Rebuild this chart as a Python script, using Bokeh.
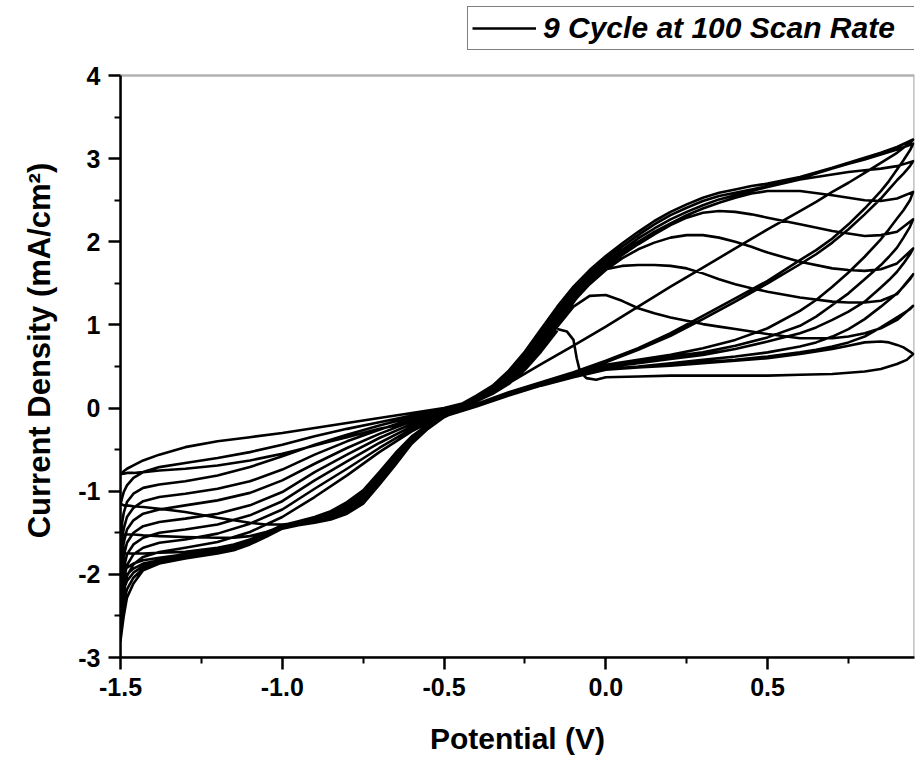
from bokeh.plotting import figure
from bokeh.models import Range1d, FixedTicker, Legend, LegendItem, NumeralTickFormatter, BoxAnnotation
from bokeh.embed import file_html
from bokeh.resources import INLINE

# ---- potential grids (V) ----
POT_FWD = [-1.5, -1.495, -1.49, -1.48, -1.46, -1.43, -1.38, -1.3, -1.2, -1.1, -1.0, -0.9, -0.8, -0.7, -0.6, -0.5,
           -0.45, -0.4, -0.35, -0.3, -0.25, -0.2, -0.15, -0.1, -0.05, 0.0, 0.05, 0.1, 0.15, 0.2, 0.25, 0.3, 0.35,
           0.4, 0.45, 0.5, 0.6, 0.7, 0.75, 0.8, 0.85, 0.9, 0.95]
POT_REV = [0.95, 0.94, 0.92, 0.9, 0.875, 0.85, 0.8, 0.75, 0.7, 0.65, 0.6, 0.5, 0.4, 0.3, 0.2, 0.1, 0.0,
           -0.1, -0.2, -0.3, -0.4, -0.5, -0.55, -0.6, -0.65, -0.7, -0.75, -0.8, -0.85, -0.9, -0.95, -1.0, -1.05,
           -1.1, -1.15, -1.2, -1.3, -1.38, -1.43, -1.46, -1.48, -1.49, -1.495, -1.5]
POT_F1 = [-0.15, -0.12, -0.1, -0.09, -0.08, -0.06, -0.03, 0.0, 0.1, 0.2, 0.3, 0.4, 0.5, 0.6, 0.7, 0.8, 0.85, 0.9,
          0.93, 0.95]

# ---- current density (mA/cm2), anodic sweeps ----
CUR_F1 = [0.95, 0.92, 0.82, 0.60, 0.44, 0.36, 0.34, 0.37, 0.38, 0.39, 0.39, 0.39, 0.39, 0.40, 0.41, 0.44, 0.47,
          0.53, 0.58, 0.65]
CUR_F2 = [-0.80, -0.78, -0.76, -0.73, -0.69, -0.63, -0.56, -0.47, -0.40, -0.35, -0.30, -0.24, -0.18, -0.12, -0.06,
          0.00, 0.05, 0.10, 0.19, 0.30, 0.49, 0.72, 0.98, 1.22, 1.35, 1.36, 1.29, 1.20, 1.14, 1.09, 1.05, 1.01, 0.98,
          0.95, 0.92, 0.89, 0.84, 0.84, 0.86, 0.90, 0.96, 1.06, 1.23]
CUR_F3 = [-1.16, -1.08, -1.01, -0.93, -0.84, -0.77, -0.71, -0.66, -0.60, -0.53, -0.44, -0.34, -0.25, -0.17, -0.09,
          -0.01, 0.04, 0.09, 0.20, 0.32, 0.51, 0.74, 1.00, 1.27, 1.54, 1.67, 1.71, 1.72, 1.72, 1.71, 1.68, 1.62, 1.55,
          1.49, 1.44, 1.40, 1.33, 1.28, 1.27, 1.27, 1.29, 1.37, 1.61]
CUR_F4 = [-1.52, -1.38, -1.26, -1.13, -1.03, -0.96, -0.92, -0.88, -0.81, -0.71, -0.58, -0.44, -0.32, -0.21, -0.11,
          -0.02, 0.04, 0.10, 0.21, 0.34, 0.53, 0.77, 1.03, 1.28, 1.49, 1.66, 1.80, 1.91, 1.99, 2.05, 2.08, 2.08, 2.05,
          2.00, 1.94, 1.87, 1.76, 1.68, 1.66, 1.65, 1.67, 1.74, 1.92]
CUR_F5 = [-1.75, -1.58, -1.45, -1.31, -1.20, -1.12, -1.07, -1.03, -0.97, -0.88, -0.74, -0.56, -0.40, -0.26, -0.13,
          -0.03, 0.04, 0.11, 0.22, 0.36, 0.55, 0.80, 1.06, 1.31, 1.52, 1.69, 1.84, 1.97, 2.09, 2.20, 2.29, 2.35, 2.37,
          2.36, 2.33, 2.29, 2.21, 2.13, 2.10, 2.07, 2.08, 2.12, 2.27]
CUR_F6 = [-2.00, -1.78, -1.62, -1.46, -1.35, -1.27, -1.22, -1.17, -1.11, -1.02, -0.87, -0.67, -0.48, -0.31, -0.16,
          -0.04, 0.04, 0.12, 0.23, 0.38, 0.58, 0.83, 1.09, 1.34, 1.55, 1.72, 1.87, 2.00, 2.12, 2.22, 2.32, 2.40, 2.47,
          2.53, 2.58, 2.61, 2.61, 2.56, 2.53, 2.50, 2.49, 2.52, 2.60]
CUR_F7 = [-2.20, -1.95, -1.78, -1.62, -1.50, -1.42, -1.37, -1.33, -1.27, -1.17, -1.01, -0.77, -0.56, -0.36, -0.19,
          -0.05, 0.04, 0.13, 0.24, 0.40, 0.61, 0.86, 1.13, 1.38, 1.58, 1.75, 1.90, 2.04, 2.16, 2.27, 2.36, 2.44, 2.51,
          2.56, 2.61, 2.66, 2.75, 2.81, 2.84, 2.86, 2.88, 2.91, 2.97]
CUR_F8 = [-2.40, -2.12, -1.93, -1.76, -1.64, -1.56, -1.50, -1.46, -1.40, -1.29, -1.12, -0.87, -0.64, -0.42, -0.22,
          -0.06, 0.04, 0.14, 0.25, 0.42, 0.64, 0.90, 1.17, 1.42, 1.62, 1.79, 1.94, 2.08, 2.21, 2.32, 2.41, 2.49, 2.55,
          2.59, 2.63, 2.67, 2.76, 2.88, 2.94, 2.99, 3.05, 3.11, 3.18]
CUR_F9 = [-2.60, -2.28, -2.07, -1.89, -1.76, -1.68, -1.62, -1.58, -1.51, -1.39, -1.22, -0.97, -0.73, -0.48, -0.25,
          -0.07, 0.04, 0.15, 0.27, 0.45, 0.68, 0.95, 1.22, 1.46, 1.66, 1.83, 1.98, 2.12, 2.25, 2.36, 2.45, 2.53, 2.59,
          2.63, 2.67, 2.70, 2.78, 2.89, 2.95, 3.01, 3.07, 3.14, 3.23]
CUR_F10 = [-2.80, -2.45, -2.22, -2.02, -1.88, -1.79, -1.73, -1.68, -1.61, -1.49, -1.31, -1.07, -0.81, -0.53, -0.28,
           -0.08, 0.01, 0.08, 0.17, 0.29, 0.46, 0.68, 0.93]

# ---- current density (mA/cm2), cathodic sweeps ----
CUR_R1 = [0.65, 0.68, 0.73, 0.76, 0.79, 0.80, 0.79, 0.75, 0.71, 0.68, 0.65, 0.60, 0.57, 0.54, 0.51, 0.49, 0.46,
          0.37, 0.27, 0.15, 0.02, -0.08, -0.12, -0.16, -0.21, -0.25, -0.30, -0.35, -0.40, -0.45, -0.50, -0.55, -0.59,
          -0.63, -0.66, -0.69, -0.73, -0.75, -0.77, -0.78, -0.78, -0.79, -0.79, -0.80]
CUR_R2 = [1.23, 1.19, 1.14, 1.09, 1.03, 0.97, 0.86, 0.79, 0.74, 0.70, 0.67, 0.62, 0.58, 0.55, 0.52, 0.49, 0.46,
          0.37, 0.27, 0.15, 0.02, -0.10, -0.22, -0.38, -0.60, -0.85, -1.07, -1.20, -1.29, -1.35, -1.38, -1.40, -1.40,
          -1.38, -1.35, -1.32, -1.25, -1.21, -1.19, -1.18, -1.17, -1.17, -1.16, -1.16]
CUR_R3 = [1.61, 1.55, 1.46, 1.38, 1.30, 1.22, 1.07, 0.95, 0.86, 0.79, 0.74, 0.67, 0.62, 0.58, 0.54, 0.50, 0.47,
          0.38, 0.28, 0.16, 0.03, -0.10, -0.21, -0.36, -0.57, -0.81, -1.03, -1.17, -1.27, -1.33, -1.37, -1.42, -1.49,
          -1.54, -1.56, -1.56, -1.55, -1.54, -1.53, -1.52, -1.52, -1.52, -1.52, -1.52]
CUR_R4 = [1.92, 1.85, 1.74, 1.64, 1.54, 1.45, 1.28, 1.16, 1.06, 0.97, 0.90, 0.80, 0.71, 0.64, 0.59, 0.54, 0.49,
          0.39, 0.28, 0.16, 0.03, -0.10, -0.20, -0.34, -0.54, -0.77, -0.99, -1.13, -1.24, -1.31, -1.36, -1.41, -1.50,
          -1.58, -1.64, -1.68, -1.73, -1.74, -1.75, -1.75, -1.75, -1.75, -1.75, -1.75]
CUR_R5 = [2.27, 2.18, 2.05, 1.93, 1.82, 1.72, 1.55, 1.38, 1.24, 1.10, 0.99, 0.85, 0.75, 0.67, 0.62, 0.57, 0.51,
          0.40, 0.29, 0.17, 0.04, -0.09, -0.21, -0.36, -0.57, -0.80, -1.02, -1.16, -1.26, -1.33, -1.37, -1.42, -1.51,
          -1.60, -1.66, -1.70, -1.76, -1.80, -1.83, -1.87, -1.92, -1.95, -1.97, -2.00]
CUR_R6 = [2.60, 2.50, 2.38, 2.28, 2.15, 2.03, 1.82, 1.63, 1.46, 1.30, 1.17, 0.96, 0.82, 0.72, 0.64, 0.58, 0.52,
          0.41, 0.30, 0.18, 0.04, -0.09, -0.22, -0.38, -0.60, -0.84, -1.06, -1.19, -1.28, -1.35, -1.39, -1.43, -1.52,
          -1.61, -1.67, -1.71, -1.78, -1.83, -1.87, -1.93, -2.00, -2.06, -2.12, -2.20]
CUR_R7 = [2.97, 2.91, 2.82, 2.74, 2.63, 2.52, 2.33, 2.15, 1.99, 1.85, 1.73, 1.50, 1.28, 1.07, 0.87, 0.70, 0.55,
          0.42, 0.30, 0.18, 0.04, -0.08, -0.23, -0.40, -0.63, -0.87, -1.09, -1.22, -1.30, -1.36, -1.40, -1.44, -1.53,
          -1.62, -1.68, -1.72, -1.79, -1.85, -1.90, -1.98, -2.08, -2.18, -2.27, -2.40]
CUR_R8 = [3.18, 3.10, 2.98, 2.87, 2.73, 2.61, 2.40, 2.21, 2.04, 1.90, 1.78, 1.53, 1.32, 1.11, 0.90, 0.72, 0.57,
          0.43, 0.31, 0.19, 0.05, -0.09, -0.24, -0.42, -0.66, -0.90, -1.12, -1.25, -1.32, -1.37, -1.40, -1.45, -1.54,
          -1.63, -1.69, -1.73, -1.80, -1.86, -1.93, -2.04, -2.18, -2.32, -2.44, -2.60]
CUR_R9 = [3.23, 3.19, 3.13, 3.07, 3.01, 2.95, 2.83, 2.71, 2.60, 2.48, 2.37, 2.15, 1.92, 1.69, 1.46, 1.22, 0.98,
          0.75, 0.53, 0.30, 0.08, -0.11, -0.25, -0.43, -0.68, -0.92, -1.15, -1.27, -1.34, -1.38, -1.41, -1.45, -1.55,
          -1.64, -1.71, -1.75, -1.81, -1.87, -1.95, -2.11, -2.28, -2.50, -2.65, -2.80]

X_TICKS = [-1.5, -1.0, -0.5, 0.0, 0.5]
X_MINOR = [-1.25, -0.75, -0.25, 0.25, 0.75]
Y_TICKS = [-3, -2, -1, 0, 1, 2, 3, 4]
Y_MINOR = [-2.5, -1.5, -0.5, 0.5, 1.5, 2.5, 3.5]

# ---- assemble the continuous trace (9 cycles) ----
fwd = [CUR_F2, CUR_F3, CUR_F4, CUR_F5, CUR_F6, CUR_F7, CUR_F8, CUR_F9]
rev = [CUR_R1, CUR_R2, CUR_R3, CUR_R4, CUR_R5, CUR_R6, CUR_R7, CUR_R8, CUR_R9]
xs = list(POT_F1) + list(POT_REV)
ys = list(CUR_F1) + list(rev[0])
for k in range(8):
    xs += POT_FWD
    ys += fwd[k]
    xs += POT_REV
    ys += rev[k + 1]
xs += POT_FWD[:len(CUR_F10)]
ys += CUR_F10

FONT = "Liberation Sans"
X_LO, X_HI = -1.5, 0.954
Y_LO, Y_HI = -3, 4
# the frame reaches the top of the page so the legend above the box is not clipped
TOP_PAD_PX = 75
PX_PER_UNIT = 83.14

p = figure(width=916, height=765, output_backend="svg", toolbar_location=None,
           x_range=Range1d(X_LO, X_HI), y_range=Range1d(Y_LO, Y_HI + TOP_PAD_PX / PX_PER_UNIT),
           min_border_left=120, min_border_right=2, min_border_top=0, min_border_bottom=108)
p.grid.visible = False
p.background_fill_color = "white"
p.border_fill_color = "white"
p.outline_line_color = None

# plot box
p.add_layout(BoxAnnotation(left=X_LO, right=X_HI, bottom=Y_LO, top=Y_HI, fill_alpha=0,
                           line_color="black", line_width=2.5))

r = p.line(xs, ys, line_color="black", line_width=2.6, line_join="round")

for ax in (p.xaxis[0], p.yaxis[0]):
    ax.axis_line_width = 2.5
    ax.major_tick_line_width = 2.5
    ax.minor_tick_line_width = 2
    ax.major_tick_out = 12
    ax.major_tick_in = 0
    ax.minor_tick_out = 6
    ax.minor_tick_in = 0
    ax.major_label_text_font = FONT
    ax.major_label_text_font_style = "bold"
    ax.major_label_text_font_size = "25px"
    ax.major_label_text_color = "black"
    ax.axis_label_text_font = FONT
    ax.axis_label_text_font_style = "bold"
    ax.axis_label_text_font_size = "30px"
    ax.axis_label_text_color = "black"
    ax.major_label_standoff = 8

p.xaxis[0].ticker = FixedTicker(ticks=X_TICKS, minor_ticks=X_MINOR)
p.xaxis[0].formatter = NumeralTickFormatter(format="0.0")
p.xaxis[0].axis_label = "Potential (V)"
p.xaxis[0].axis_label_standoff = 23

p.yaxis[0].ticker = FixedTicker(ticks=Y_TICKS, minor_ticks=Y_MINOR)
p.yaxis[0].formatter = NumeralTickFormatter(format="0")
p.yaxis[0].bounds = (Y_LO, Y_HI)
# trailing no-break spaces keep the title centred on the boxed region rather than the taller frame
p.yaxis[0].axis_label = "Current Density (mA/cm²)" + "\u00a0" * 5
p.yaxis[0].axis_label_text_font_size = "31px"
p.yaxis[0].axis_label_standoff = 18

legend = Legend(items=[LegendItem(label="9 Cycle at 100 Scan Rate", renderers=[r])],
                location=(347, 607), orientation="vertical",
                label_text_font=FONT, label_text_font_style="bold italic",
                label_text_font_size="30px", label_text_color="black",
                glyph_width=64, glyph_height=30, label_standoff=7, label_width=374,
                padding=4, spacing=0, margin=0,
                border_line_color="black", border_line_width=1.5,
                background_fill_color="white", background_fill_alpha=1.0)
p.add_layout(legend)

open("out.html", "w").write(file_html(p, INLINE))
